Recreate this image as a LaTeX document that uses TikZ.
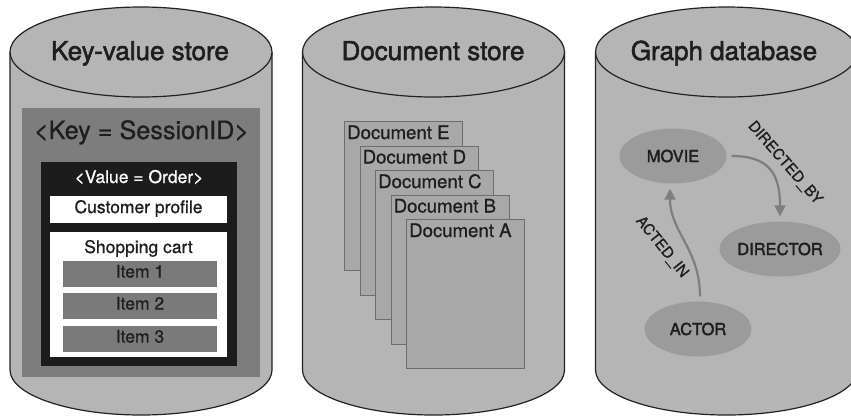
\documentclass[tikz,border=0pt]{standalone}
\usepackage{fontspec}
\setmainfont{TeX Gyre Heros}[FakeBold=0.8]
\newfontfamily\medfont{TeX Gyre Heros}[FakeBold=2]
\usetikzlibrary{shapes.geometric,arrows.meta}

\definecolor{cylfill}{HTML}{B5B5B5}
\definecolor{cylline}{HTML}{222222}
\definecolor{kvgray}{HTML}{7D7D7D}
\definecolor{kvblack}{HTML}{1C1C1C}
\definecolor{itemgray}{HTML}{7A7A7A}
\definecolor{docfill}{HTML}{A8A8A8}
\definecolor{docline}{HTML}{6E6E6E}
\definecolor{gnodefill}{HTML}{9B9B9B}
\definecolor{edgegray}{HTML}{7E7E7E}
\definecolor{txtdark}{HTML}{1E1E1E}

% database cylinder: #1 = centre x
\newcommand\dbcylinder[1]{%
  \fill[cylfill] (#1-131,52) -- (#1-131,370)
    .. controls (#1-131,394.85) and (#1-72.35,415) .. (#1,415)
    .. controls (#1+72.35,415) and (#1+131,394.85) .. (#1+131,370)
    -- (#1+131,52) -- cycle;
  \draw[cylstroke] (#1-131,52) -- (#1-131,370)
    .. controls (#1-131,394.85) and (#1-72.35,415) .. (#1,415)
    .. controls (#1+72.35,415) and (#1+131,394.85) .. (#1+131,370)
    -- (#1+131,52);
  \draw[cylstroke, fill=cylfill] (#1,52) ellipse [x radius=131, y radius=45];
}

\tikzset{
  cylstroke/.style={draw=cylline, line width=1.2pt},
  title/.style={anchor=base, text=txtdark, font=\medfont\fontsize{26}{31}\selectfont},
  box/.style={rectangle, inner sep=0pt, text height=0.72em, text depth=0pt,
    font=\fontsize{17.5}{21}\selectfont, text=txtdark},
  docbox/.style={rectangle, anchor=north west, fill=docfill, draw=docline,
    line width=0.8pt, minimum width=118pt, minimum height=149pt, inner sep=0pt},
  doclabel/.style={anchor=base west, inner sep=0pt, text=txtdark,
    font=\fontsize{18.6}{22}\selectfont},
  gnode/.style={ellipse, fill=gnodefill, minimum width=107pt, minimum height=55pt,
    inner sep=0pt, text=txtdark, font=\medfont\fontsize{16.5}{20}\selectfont},
  gedge/.style={draw=edgegray, line width=2.2pt,
    -{Triangle[length=11pt,width=11pt]}, shorten <=5pt, shorten >=5pt},
  elabel/.style={inner sep=0pt, text=txtdark, font=\fontsize{15}{18}\selectfont},
}

\begin{document}
\begin{tikzpicture}[x=1pt, y=-1pt]
\useasboundingbox (0,0) rectangle (851,416);
\clip (0,0) rectangle (851,416);

% ---------- the three stores ----------
\dbcylinder{141}
\dbcylinder{433.5}
\dbcylinder{726.5}

\node[title] (kvtitle) at (140,60) {Key-value store};
\node[title] (doctitle) at (433,60) {Document store};
\node[title] (graphtitle) at (724,60) {Graph database};

% ---------- key-value store ----------
\node[rectangle, fill=kvgray, minimum width=238pt, minimum height=269pt, inner sep=0pt]
  (keybox) at (141,242.5) {};
\node[anchor=base, text=txtdark, font=\fontsize{25.2}{30}\selectfont]
  (keylabel) at (141.5,139) {<Key = SessionID>};
\node[rectangle, fill=kvblack, minimum width=196pt, minimum height=204pt, inner sep=0pt]
  (valuebox) at (139,264) {};
\node[anchor=base, text=white, font=\fontsize{17.5}{21}\selectfont]
  (valuelabel) at (139,183) {<Value = Order>};
\node[box, fill=white, minimum width=177pt, minimum height=27pt]
  (profile) at (138.5,209.5) {Customer profile};
\node[rectangle, fill=white, minimum width=177pt, minimum height=125pt, inner sep=0pt]
  (cart) at (138.5,294.5) {};
\node[anchor=base, text=txtdark, font=\fontsize{17.5}{21}\selectfont]
  (cartlabel) at (138.5,253) {Shopping cart};
\node[box, fill=itemgray, minimum width=154pt, minimum height=26pt] (item1) at (140,274) {Item 1};
\node[box, fill=itemgray, minimum width=154pt, minimum height=26pt] (item2) at (140,306) {Item 2};
\node[box, fill=itemgray, minimum width=154pt, minimum height=26pt] (item3) at (140,339) {Item 3};

% ---------- document store (back to front) ----------
\node[docbox] (docE) at (344,121) {};
\node[doclabel] (docElabel) at (347,139) {Document E};
\node[docbox] (docD) at (359.5,145.5) {};
\node[doclabel] (docDlabel) at (362.5,163.5) {Document D};
\node[docbox] (docC) at (375,170) {};
\node[doclabel] (docClabel) at (378,188) {Document C};
\node[docbox] (docB) at (390.5,194.5) {};
\node[doclabel] (docBlabel) at (393.5,212.5) {Document B};
\node[docbox] (docA) at (406,219) {};
\node[doclabel] (docAlabel) at (409,237) {Document A};

% ---------- graph database ----------
\node[gnode] (movie) at (673,156) {MOVIE};
\node[gnode] (director) at (780,249) {DIRECTOR};
\node[gnode] (actor) at (698,329) {ACTOR};

\draw[gedge] (movie.east) .. controls +(42,0) and +(0,-48) .. (director.north);
\draw[gedge] ([xshift=2pt]actor.north) .. controls +(0,-52) and +(0,48) .. ([xshift=-3pt]movie.south);

\node[elabel, rotate=-49] (directedby) at (785,163) {DIRECTED\_BY};
\node[elabel, rotate=-51] (actedin) at (662,247) {ACTED\_IN};
\end{tikzpicture}
\end{document}
